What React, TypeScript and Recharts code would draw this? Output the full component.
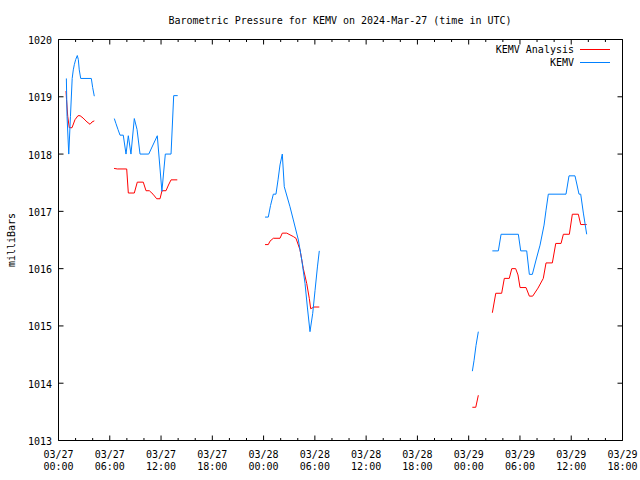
import React from 'react';
import { LineChart, Line, XAxis, YAxis, Customized } from 'recharts';

// KEMV Analysis (red) — hours since 03/27 00:00 UTC, null = gap
const analysisHours = [
  0.88, 0.94, 1.08, 1.26, 1.58, 1.93, 2.28, 2.52, 2.87, 3.34, 3.69, 3.92, 4.19,
  5.0,
  6.5, 6.88, 7.98, 8.17, 8.87, 9.22, 9.92, 10.24, 10.63, 11.06, 11.49, 11.88, 12.11, 12.58, 12.87, 13.17, 13.9,
  18.0,
  24.17, 24.55, 24.75, 25.14, 25.92, 26.19, 26.71, 27.09, 27.48, 27.79, 28.26, 28.65, 29.05, 29.35, 29.51, 29.9, 30.52,
  40.0,
  48.43, 48.83, 49.13,
  50.0,
  50.77, 51.17, 51.86, 52.17, 52.75, 53.04, 53.5, 53.77, 54.01, 54.71, 55.1, 55.49, 56.11, 56.73, 57.05, 57.79,
  58.19, 58.81, 59.08, 59.78, 60.13, 60.83, 61.11, 61.81,
];
const analysisMb = [
  1019.1, 1018.95, 1018.66, 1018.46, 1018.46, 1018.6, 1018.67, 1018.67, 1018.63, 1018.56, 1018.52, 1018.56, 1018.58,
  null,
  1017.75, 1017.74, 1017.74, 1017.32, 1017.32, 1017.51, 1017.51, 1017.36, 1017.36, 1017.3, 1017.22, 1017.22, 1017.36, 1017.36, 1017.46, 1017.55, 1017.55,
  null,
  1016.42, 1016.42, 1016.48, 1016.53, 1016.53, 1016.62, 1016.62, 1016.59, 1016.56, 1016.53, 1016.33, 1016.0, 1015.74, 1015.48, 1015.3, 1015.33, 1015.33,
  null,
  1013.58, 1013.58, 1013.79,
  null,
  1015.23, 1015.57, 1015.57, 1015.83, 1015.83, 1016.0, 1016.0, 1015.89, 1015.67, 1015.67, 1015.52, 1015.52, 1015.66, 1015.83, 1016.1, 1016.1,
  1016.44, 1016.44, 1016.6, 1016.6, 1016.95, 1016.95, 1016.77, 1016.77,
];

// KEMV observations (blue)
const kemvHours = [
  0.92, 1.0, 1.2, 1.4, 1.6, 1.73, 1.85, 2.01, 2.2, 2.32, 2.43, 2.6, 3.84, 4.0, 4.19,
  5.0,
  6.53, 6.73, 6.96, 7.2, 7.58, 7.9, 8.17, 8.48, 8.87, 9.19, 9.54, 10.56, 11.56, 12.1, 12.5, 13.17, 13.48, 13.95,
  18.0,
  24.17, 24.55, 24.81, 25.14, 25.45, 25.69, 25.92, 26.19, 26.42, 27.09, 27.48, 28.07, 28.47, 28.85, 29.12, 29.43,
  29.75, 30.02, 30.3, 30.52,
  40.0,
  48.43, 48.63, 48.86, 49.13,
  50.0,
  50.77, 51.47, 51.79, 53.81, 54.09, 54.79, 55.1, 55.45, 55.88, 56.35, 56.82, 57.05, 57.32, 59.39, 59.74, 60.44,
  60.68, 60.91, 61.11, 61.42, 61.81,
];
const kemvMb = [
  1019.32, 1018.66, 1018.0, 1018.66, 1019.32, 1019.47, 1019.56, 1019.65, 1019.72, 1019.65, 1019.47, 1019.32, 1019.32, 1019.16, 1019.01,
  null,
  1018.62, 1018.53, 1018.43, 1018.33, 1018.33, 1018.0, 1018.32, 1018.0, 1018.62, 1018.43, 1018.0, 1018.0, 1018.32, 1017.35, 1018.0, 1018.0, 1019.02, 1019.02,
  null,
  1016.9, 1016.9, 1017.1, 1017.3, 1017.3, 1017.55, 1017.81, 1018.0, 1017.43, 1017.08, 1016.85, 1016.5, 1016.15, 1015.74, 1015.33, 1014.9,
  1015.22, 1015.62, 1016.03, 1016.31,
  null,
  1014.21, 1014.4, 1014.66, 1014.9,
  null,
  1016.31, 1016.31, 1016.6, 1016.6, 1016.31, 1016.31, 1015.9, 1015.9, 1016.15, 1016.41, 1016.76, 1017.02, 1017.3, 1017.3, 1017.62, 1017.62,
  1017.46, 1017.3, 1017.3, 1016.97, 1016.6,
];

const xTicks = [0, 2, 4, 6, 8, 10, 12, 14, 16, 18, 20, 22, 24, 26, 28, 30, 32, 34, 36, 38, 40, 42, 44, 46, 48, 50, 52, 54, 56, 58, 60, 62, 64, 66];
const xTickDates = ['03/27', '03/27', '03/27', '03/27', '03/28', '03/28', '03/28', '03/28', '03/29', '03/29', '03/29', '03/29'];
const xTickTimes = ['00:00', '06:00', '12:00', '18:00', '00:00', '06:00', '12:00', '18:00', '00:00', '06:00', '12:00', '18:00'];
const yTicks = [1013, 1014, 1015, 1016, 1017, 1018, 1019, 1020];

const TITLE = 'Barometric Pressure for KEMV on 2024-Mar-27 (time in UTC)';
const Y_LABEL = 'milliBars';
const SERIES_RED = 'KEMV Analysis';
const SERIES_BLUE = 'KEMV';
const RED = '#ff0000';
const BLUE = '#0080ff';
const FONT = '"DejaVu Sans Mono", "Liberation Mono", monospace';

const analysisData = analysisHours.map((h, i) => ({ h, mb: analysisMb[i] }));
const kemvData = kemvHours.map((h, i) => ({ h, mb: kemvMb[i] }));

const BottomTick = (props: any) => {
  const { x, y, payload } = props;
  const v = payload.value;
  const major = v % 6 === 0;
  const idx = Math.round(v / 6);
  return (
    <g>
      <line x1={x} y1={y} x2={x} y2={y - (major ? 5 : 2.5)} stroke="#000" strokeWidth={1} />
      {major && (
        <text x={x} y={y + 17.5} textAnchor="middle" fontFamily={FONT} fontSize={10} fill="#000">
          {xTickDates[idx]}
        </text>
      )}
      {major && (
        <text x={x} y={y + 29} textAnchor="middle" fontFamily={FONT} fontSize={10} fill="#000">
          {xTickTimes[idx]}
        </text>
      )}
    </g>
  );
};

const TopTick = (props: any) => {
  const { x, y, payload } = props;
  const major = payload.value % 6 === 0;
  return <line x1={x} y1={y} x2={x} y2={y + (major ? 5 : 2.5)} stroke="#000" strokeWidth={1} />;
};

const LeftTick = (props: any) => {
  const { x, y, payload } = props;
  return (
    <g>
      <line x1={x} y1={y} x2={x + 5} y2={y} stroke="#000" strokeWidth={1} />
      <text x={x - 6.5} y={y + 4.5} textAnchor="end" fontFamily={FONT} fontSize={10} fill="#000">
        {payload.value}
      </text>
    </g>
  );
};

const RightTick = (props: any) => {
  const { x, y } = props;
  return <line x1={x} y1={y} x2={x - 5} y2={y} stroke="#000" strokeWidth={1} />;
};

const Decorations = () => (
  <g>
    <text x={340} y={24} textAnchor="middle" fontFamily={FONT} fontSize={10} fill="#000">
      {TITLE}
    </text>
    <text
      x={15}
      y={240}
      textAnchor="middle"
      fontFamily={FONT}
      fontSize={10}
      fill="#000"
      transform="rotate(-90 15 240)"
    >
      {Y_LABEL}
    </text>
    <text x={574} y={53} textAnchor="end" fontFamily={FONT} fontSize={10} fill="#000">
      {SERIES_RED}
    </text>
    <line x1={580} y1={49.5} x2={610} y2={49.5} stroke={RED} strokeWidth={1} />
    <text x={574} y={66} textAnchor="end" fontFamily={FONT} fontSize={10} fill="#000">
      {SERIES_BLUE}
    </text>
    <line x1={580} y1={62.5} x2={610} y2={62.5} stroke={BLUE} strokeWidth={1} />
  </g>
);

export default function App() {
  return (
    <div style={{ position: 'absolute', left: 0, top: 0, width: 640, height: 480, background: '#fff' }}>
      <LineChart width={640} height={480} margin={{ top: 0, right: 0, bottom: 0, left: 0 }}>
        <XAxis
          xAxisId={0}
          dataKey="h"
          type="number"
          domain={[0, 66]}
          ticks={xTicks}
          interval={0}
          allowDataOverflow
          orientation="bottom"
          height={39.5}
          tickSize={0}
          tickMargin={0}
          tickLine={false}
          axisLine={{ stroke: '#000', strokeWidth: 1 }}
          tick={<BottomTick />}
        />
        <XAxis
          xAxisId="top"
          dataKey="h"
          type="number"
          domain={[0, 66]}
          ticks={xTicks}
          interval={0}
          allowDataOverflow
          orientation="top"
          height={39.5}
          tickSize={0}
          tickMargin={0}
          tickLine={false}
          axisLine={{ stroke: '#000', strokeWidth: 1 }}
          tick={<TopTick />}
        />
        <YAxis
          yAxisId={0}
          type="number"
          domain={[1013, 1020]}
          ticks={yTicks}
          interval={0}
          allowDataOverflow
          orientation="left"
          width={58.5}
          tickSize={0}
          tickMargin={0}
          tickLine={false}
          axisLine={{ stroke: '#000', strokeWidth: 1 }}
          tick={<LeftTick />}
        />
        <YAxis
          yAxisId="right"
          type="number"
          domain={[1013, 1020]}
          ticks={yTicks}
          interval={0}
          allowDataOverflow
          orientation="right"
          width={17.5}
          tickSize={0}
          tickMargin={0}
          tickLine={false}
          axisLine={{ stroke: '#000', strokeWidth: 1 }}
          tick={<RightTick />}
        />
        <Line
          data={analysisData}
          dataKey="mb"
          name={SERIES_RED}
          type="linear"
          stroke={RED}
          strokeWidth={1}
          dot={false}
          activeDot={false}
          connectNulls={false}
          isAnimationActive={false}
        />
        <Line
          data={kemvData}
          dataKey="mb"
          name={SERIES_BLUE}
          type="linear"
          stroke={BLUE}
          strokeWidth={1}
          dot={false}
          activeDot={false}
          connectNulls={false}
          isAnimationActive={false}
        />
        <Customized component={Decorations} />
      </LineChart>
    </div>
  );
}
